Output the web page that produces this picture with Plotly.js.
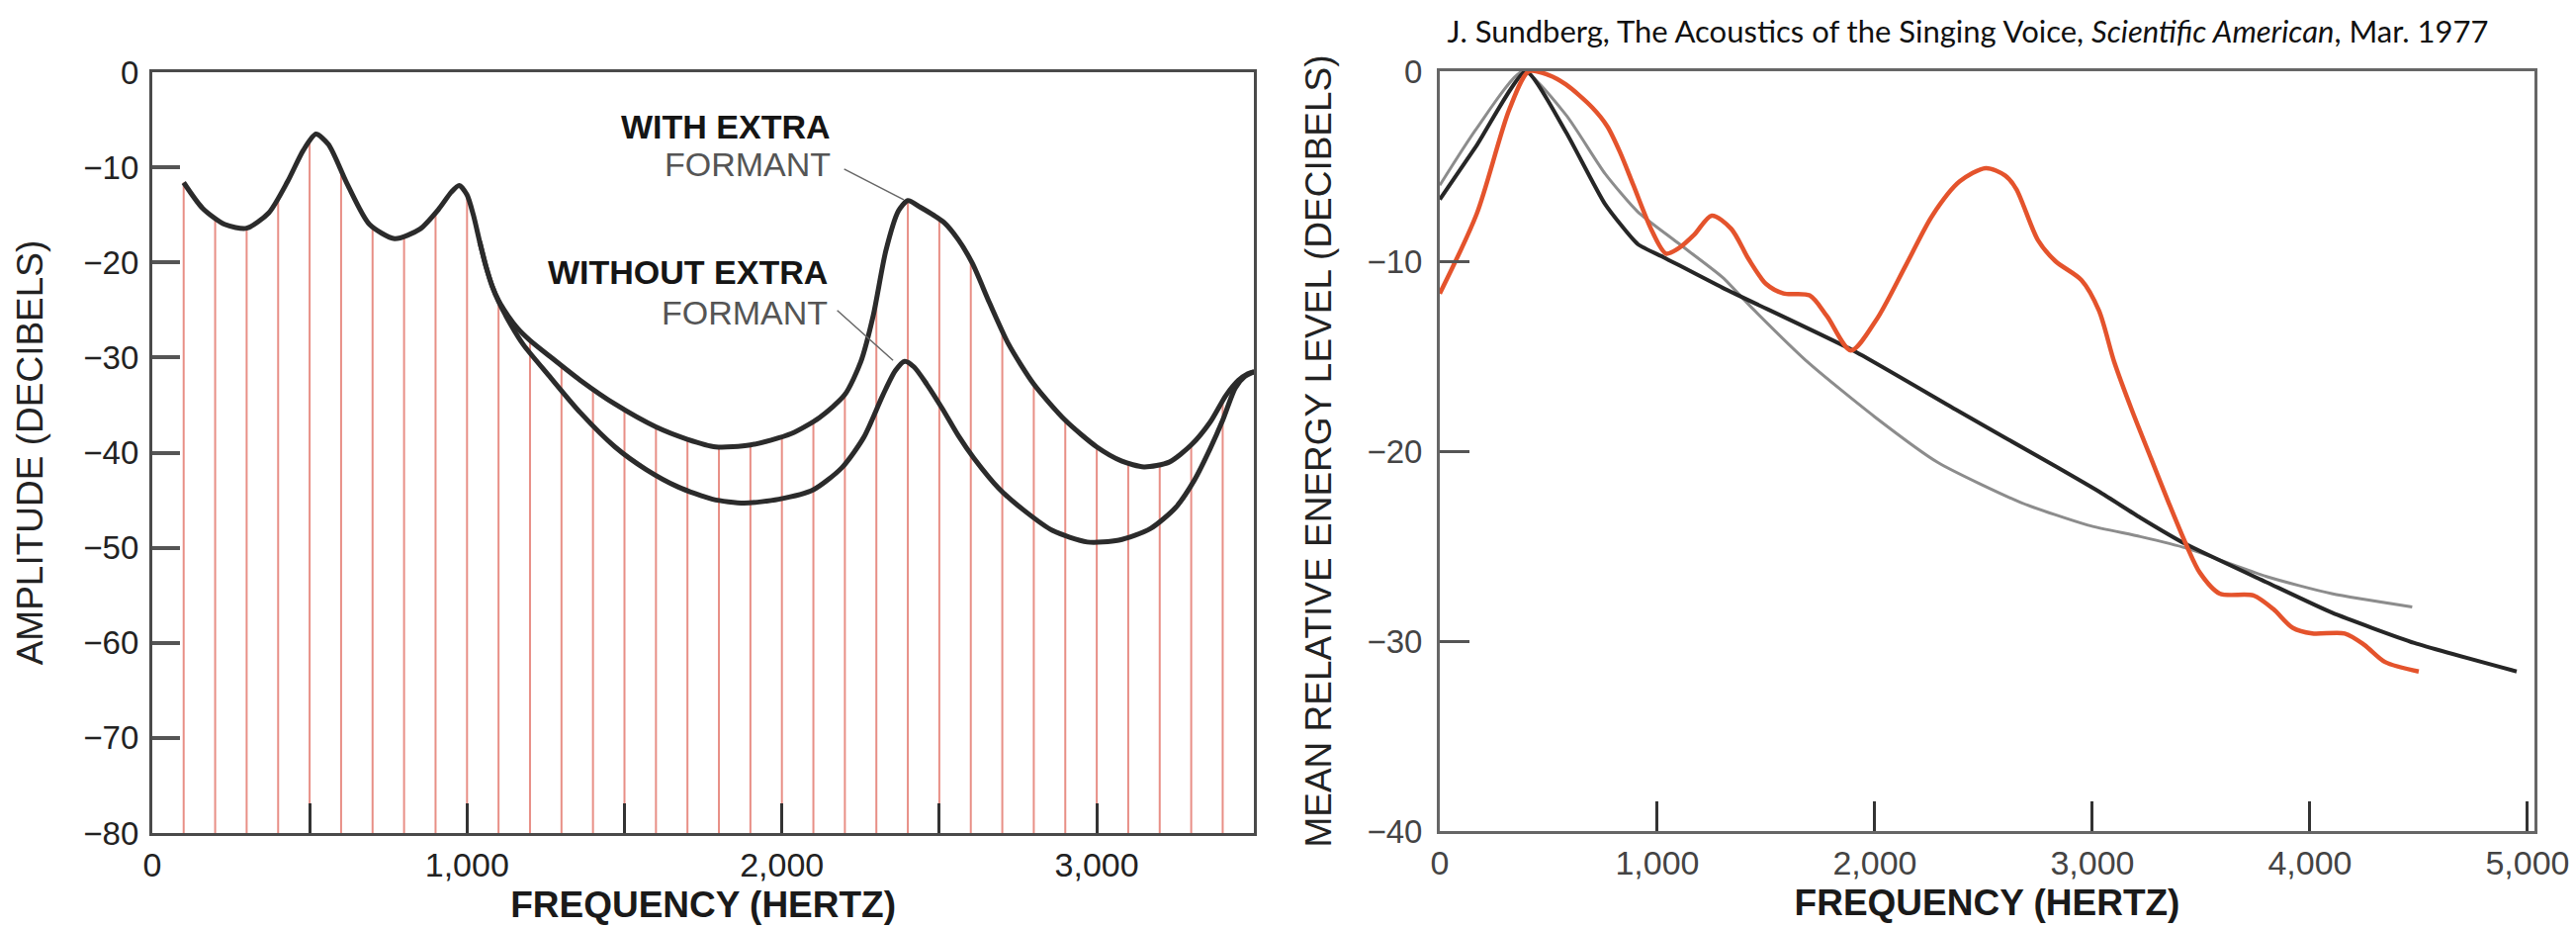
<!DOCTYPE html>
<html>
<head>
<meta charset="utf-8">
<script src="https://cdn.plot.ly/plotly-3.0.1.min.js"></script>
<style>
html,body{margin:0;padding:0;background:#fff;}
#chart{width:2605px;height:938px;}
</style>
</head>
<body>
<div id="chart"></div>
<script>
// ---------- LEFT PANEL: spectrum envelope with / without extra formant ----------
const envFreqUpper = [100,160,230,300,370,430,480,520,560,620,690,770,850,910,950,975,1000,1020,1040,1060,1080,1100,1130,1160,1200,1260,1360,1470,1600,1700,1790,1900,2030,2120,2200,2250,2290,2330,2370,2400,2440,2480,2515,2560,2605,2660,2720,2800,2900,3000,3080,3150,3230,3300,3360,3410,3450,3480,3500];
const envDbUpper = [-11.6,-14.3,-16.0,-16.4,-14.8,-11.5,-8.2,-6.5,-7.6,-11.8,-16.0,-17.5,-16.5,-14.4,-12.6,-11.9,-12.9,-15.0,-17.8,-20.4,-22.5,-24.0,-25.6,-26.9,-28.2,-29.8,-32.4,-34.9,-37.3,-38.6,-39.4,-39.2,-38.0,-36.3,-33.9,-30.5,-25.6,-18.8,-14.6,-13.5,-14.2,-15.0,-15.8,-17.6,-20.1,-24.3,-28.6,-32.8,-36.6,-39.4,-40.9,-41.5,-41.0,-39.2,-36.8,-34.0,-32.4,-31.7,-31.5];

const envFreqLower = [1040,1060,1080,1100,1140,1180,1260,1360,1470,1570,1670,1780,1880,1990,2100,2190,2260,2320,2360,2390,2420,2460,2510,2560,2610,2690,2770,2860,2970,3070,3170,3250,3310,3360,3400,3440,3470,3500];
const envDbLower = [-17.8,-20.4,-22.5,-24.1,-26.6,-28.7,-31.9,-35.8,-39.4,-41.8,-43.6,-44.9,-45.3,-44.9,-43.9,-41.6,-38.4,-34.0,-31.4,-30.4,-31.0,-32.8,-35.4,-38.2,-40.6,-43.8,-46.1,-48.2,-49.4,-49.2,-48.0,-45.8,-42.9,-39.6,-36.6,-33.2,-32.0,-31.5];

const harmonicFreq = [100,200,300,400,500,600,700,800,900,1000,1100,1200,1300,1400,1500,1600,1700,1800,1900,2000,2100,2200,2300,2400,2500,2600,2700,2800,2900,3000,3100,3200,3300,3400];
const harmonicDb = [-11.6,-15.3,-16.4,-13.3,-7.1,-10.3,-16.3,-17.3,-14.8,-12.9,-24.0,-28.2,-31.0,-33.5,-35.5,-37.3,-38.6,-39.4,-39.2,-38.4,-36.7,-33.9,-24.0,-13.5,-15.5,-19.8,-27.3,-32.8,-36.6,-39.4,-41.1,-41.3,-39.2,-34.6];
const harmonicFloor = -80;

const leftXTickVals = [0,500,1000,1500,2000,2500,3000,3500];
const leftXTickText = ['0','','1,000','','2,000','','3,000',''];
const leftYTickVals = [0,-10,-20,-30,-40,-50,-60,-70,-80];
const leftYTickText = ['0','\u221210','\u221220','\u221230','\u221240','\u221250','\u221260','\u221270','\u221280'];

const labelWith = ['WITH EXTRA','FORMANT'];
const labelWithout = ['WITHOUT EXTRA','FORMANT'];
// leader lines: [fromFreq, fromDb, toFreq, toDb]
const leaderWith = [2193,-10.1,2387,-13.4];
const leaderWithout = [2171,-24.9,2353,-30.3];

// ---------- RIGHT PANEL: mean relative energy level ----------
const redFreq = [0,170,320,410,500,580,700,770,830,890,975,1040,1100,1170,1250,1340,1420,1500,1580,1700,1780,1890,2006,2143,2264,2390,2510,2600,2650,2750,2830,2950,3030,3100,3180,3270,3350,3434,3494,3585,3740,3830,3920,4010,4160,4250,4345,4500];
const redDb = [-11.7,-7.5,-2.0,0,-0.2,-0.7,-1.9,-2.9,-4.3,-6.0,-8.4,-9.6,-9.3,-8.6,-7.6,-8.3,-9.9,-11.2,-11.7,-11.8,-12.9,-14.7,-13.1,-10.2,-7.6,-5.8,-5.1,-5.5,-6.2,-8.9,-10.0,-11.0,-12.6,-15.3,-17.8,-20.4,-22.7,-25.0,-26.4,-27.5,-27.6,-28.3,-29.3,-29.6,-29.6,-30.2,-31.1,-31.6];

const blackFreq = [0,170,396,580,760,910,1030,1300,1900,2370,2830,3040,3220,3430,3800,4100,4480,4950];
const blackDb = [-6.75,-3.9,0,-3.2,-7.0,-9.1,-9.8,-11.4,-14.7,-17.8,-20.8,-22.2,-23.5,-24.9,-26.9,-28.5,-30.1,-31.6];

const grayFreq = [0,170,383,580,760,910,1090,1300,1430,1700,2000,2290,2670,2980,3220,3430,3800,4100,4470];
const grayDb = [-6.0,-3.0,0,-2.3,-5.4,-7.4,-9.0,-10.85,-12.4,-15.4,-18.2,-20.6,-22.7,-23.9,-24.5,-25.1,-26.6,-27.5,-28.2];

const rightXTickVals = [0,1000,2000,3000,4000,5000];
const rightXTickText = ['0','1,000','2,000','3,000','4,000','5,000'];
const rightYTickVals = [0,-10,-20,-30,-40];
const rightYTickText = ['0','\u221210','\u221220','\u221230','\u221240'];

const citation = 'J. Sundberg, The Acoustics of the Singing Voice, <i>Scientific American</i>, Mar. 1977';

// ---------- build harmonic stems from data ----------
const stemX = [], stemY = [];
harmonicFreq.forEach((f, i) => {
  stemX.push(f, f, null);
  stemY.push(harmonicFloor, harmonicDb[i], null);
});

const FONT = 'Liberation Sans, Arial, Helvetica, sans-serif';

const traces = [
  {x: stemX, y: stemY, xaxis:'x', yaxis:'y', mode:'lines', name:'Harmonics',
   line:{color:'rgba(226,112,100,0.78)', width:2}, hoverinfo:'skip'},
  {x: envFreqLower, y: envDbLower, xaxis:'x', yaxis:'y', mode:'lines', name:'Without extra formant',
   line:{color:'#2b2b2b', width:5, shape:'spline', smoothing:0.7}},
  {x: envFreqUpper, y: envDbUpper, xaxis:'x', yaxis:'y', mode:'lines', name:'With extra formant',
   line:{color:'#2b2b2b', width:5, shape:'spline', smoothing:0.7}},
  {x: grayFreq, y: grayDb, xaxis:'x2', yaxis:'y2', mode:'lines', name:'Gray',
   line:{color:'#8c8c8c', width:3, shape:'spline', smoothing:0.6}},
  {x: blackFreq, y: blackDb, xaxis:'x2', yaxis:'y2', mode:'lines', name:'Black',
   line:{color:'#262626', width:4, shape:'spline', smoothing:0.5}},
  {x: redFreq, y: redDb, xaxis:'x2', yaxis:'y2', mode:'lines', name:'Red',
   line:{color:'#e4532c', width:4.5, shape:'spline', smoothing:0.8}}
];

const W = 2605, H = 938;
const L = {x0:153.9, x1:1268.3, y0:73, y1:842};
const R = {x0:1456, x1:2563, y0:72, y1:840};

const labelFont = {family: FONT, size: 33, color:'#222'};

const layout = {
  width: W, height: H,
  margin: {l:0, r:0, t:0, b:0},
  paper_bgcolor:'#ffffff', plot_bgcolor:'#ffffff',
  showlegend:false,
  title: {text: citation, x: 1990/W, xanchor:'center', y: 1 - 32/H, yanchor:'middle',
          font:{family:'Lato, "Open Sans", sans-serif', size:31, color:'#111'}},
  xaxis: {
    domain:[L.x0/W, L.x1/W], range:[0,3500], anchor:'y',
    showgrid:false, zeroline:false, showline:true, mirror:true, linecolor:'#4a4a4a', linewidth:3,
    ticks:'inside', ticklen:30, tickwidth:3, tickcolor:'#333',
    tickmode:'array', tickvals:leftXTickVals, ticktext:leftXTickText,
    tickfont: {family: FONT, size: 34, color:'#222'},
    title:{text:'FREQUENCY (HERTZ)', standoff:10, font:{family:FONT, size:37, color:'#1a1a1a', weight:'bold'}}
  },
  yaxis: {
    domain:[1-L.y1/H, 1-L.y0/H], range:[-80,0], anchor:'x',
    showgrid:false, zeroline:false, showline:true, mirror:true, linecolor:'#4a4a4a', linewidth:3,
    ticks:'inside', ticklen:28, tickwidth:4, tickcolor:'#555',
    tickmode:'array', tickvals:leftYTickVals, ticktext:leftYTickText,
    tickfont: labelFont, ticklabelstandoff:4,
    title:{text:'AMPLITUDE (DECIBELS)', standoff:30, font:{family:FONT, size:37, color:'#222'}}
  },
  xaxis2: {
    domain:[R.x0/W, R.x1/W], range:[0,5032], anchor:'y2',
    showgrid:false, zeroline:false, showline:true, mirror:true, linecolor:'#666', linewidth:3,
    ticks:'inside', ticklen:30, tickwidth:3, tickcolor:'#333',
    tickmode:'array', tickvals:rightXTickVals, ticktext:rightXTickText,
    tickfont: {family: FONT, size: 34, color:'#444'},
    title:{text:'FREQUENCY (HERTZ)', standoff:10, font:{family:FONT, size:37, color:'#1a1a1a', weight:'bold'}}
  },
  yaxis2: {
    domain:[1-R.y1/H, 1-R.y0/H], range:[-40,0], anchor:'x2',
    showgrid:false, zeroline:false, showline:true, mirror:true, linecolor:'#666', linewidth:3,
    ticks:'inside', ticklen:30, tickwidth:3, tickcolor:'#555',
    tickmode:'array', tickvals:rightYTickVals, ticktext:rightYTickText,
    tickfont: {family: FONT, size: 33, color:'#444'}, ticklabelstandoff:8,
    title:{text:'MEAN RELATIVE ENERGY LEVEL (DECIBELS)', standoff:25, font:{family:FONT, size:37, color:'#222'}}
  },
  annotations: [
    {xref:'x', yref:'y', x:2160, y:-5.77, text:labelWith[0], showarrow:false, xanchor:'right', yanchor:'middle',
     font:{family:FONT, size:34, color:'#151515', weight:'bold'}},
    {xref:'x', yref:'y', x:2160, y:-9.71, text:labelWith[1], showarrow:false, xanchor:'right', yanchor:'middle',
     font:{family:FONT, size:34, color:'#555'}},
    {xref:'x', yref:'y', x:2152, y:-20.99, text:labelWithout[0], showarrow:false, xanchor:'right', yanchor:'middle',
     font:{family:FONT, size:34, color:'#151515', weight:'bold'}},
    {xref:'x', yref:'y', x:2152, y:-25.3, text:labelWithout[1], showarrow:false, xanchor:'right', yanchor:'middle',
     font:{family:FONT, size:34, color:'#555'}},
    {xref:'x', yref:'y', axref:'x', ayref:'y', x:leaderWith[2], y:leaderWith[3], ax:leaderWith[0], ay:leaderWith[1],
     text:'', showarrow:true, arrowhead:0, arrowwidth:1.5, arrowcolor:'#666', standoff:0, startstandoff:0},
    {xref:'x', yref:'y', axref:'x', ayref:'y', x:leaderWithout[2], y:leaderWithout[3], ax:leaderWithout[0], ay:leaderWithout[1],
     text:'', showarrow:true, arrowhead:0, arrowwidth:1.5, arrowcolor:'#666', standoff:0, startstandoff:0}
  ]
};

Plotly.newPlot('chart', traces, layout, {displayModeBar:false, staticPlot:true});
</script>
</body>
</html>
